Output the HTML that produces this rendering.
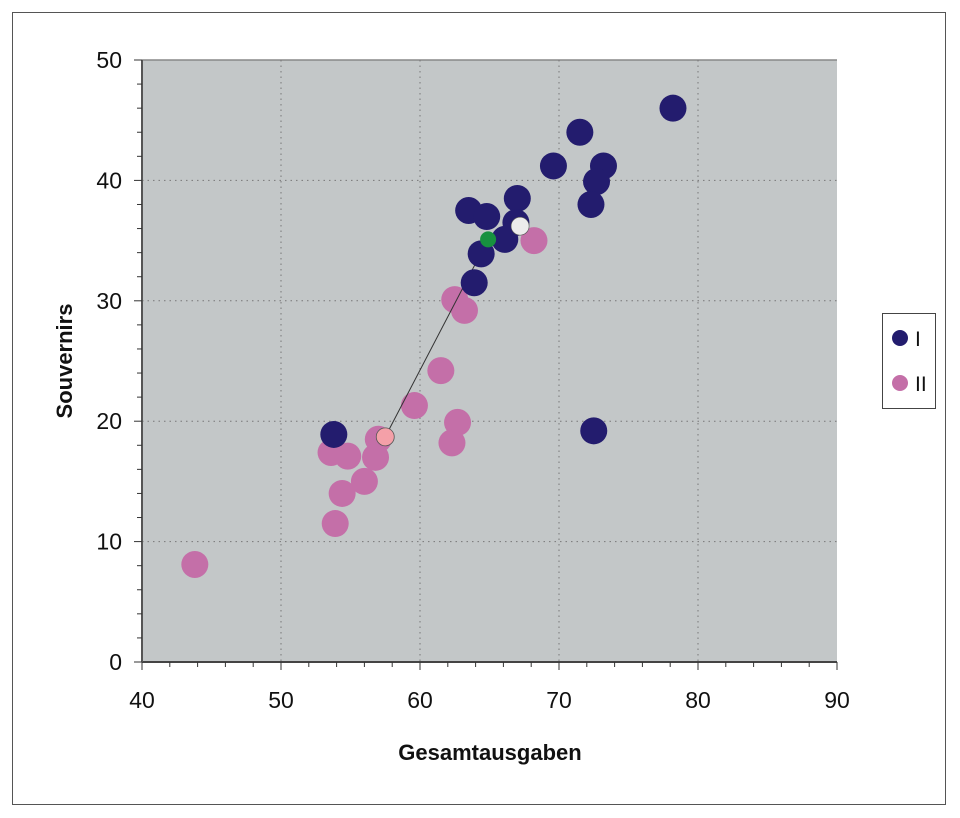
<!DOCTYPE html>
<html><head><meta charset="utf-8"><style>
body{margin:0;background:#fff;width:960px;height:818px;overflow:hidden}
svg{display:block;font-family:"Liberation Sans",sans-serif}
</style></head><body>
<svg id="c" width="960" height="818">
<rect x="12.5" y="12.5" width="933" height="792" fill="#fff" stroke="#555"/>
</svg>
<script>
const xTicks=[40,50,60,70,80,90];
const yTicks=[0,10,20,30,40,50];
const groupIX=[78.2,71.5,69.6,73.2,72.7,72.3,67.0,63.5,64.8,66.9,66.1,64.4,63.9,53.8,72.5];
const groupIY=[46.0,44.0,41.2,41.2,39.9,38.0,38.5,37.5,37.0,36.5,35.1,33.9,31.5,18.9,19.2];
const groupIIX=[68.2,62.5,63.2,61.5,59.6,62.7,62.3,57.0,56.8,53.6,54.8,56.0,54.4,53.9,43.8];
const groupIIY=[35.0,30.1,29.2,24.2,21.3,19.9,18.2,18.5,17.0,17.4,17.1,15.0,14.0,11.5,8.1];
const centroidI=[67.2,36.2];
const centroidAll=[64.9,35.1];
const centroidII=[57.5,18.7];
const NS="http://www.w3.org/2000/svg";
const svg=document.getElementById('c');
const X0=142,X1=837,Y0=662,Y1=60;
const sx=v=>X0+(v-40)/50*(X1-X0);
const sy=v=>Y0-(v/50)*(Y0-Y1);
function mk(t,a,p){const e=document.createElementNS(NS,t);for(const k in a)e.setAttribute(k,a[k]);(p||svg).appendChild(e);return e;}
let el=mk('rect',{x:X0,y:Y1,width:X1-X0,height:Y0-Y1,fill:'#c3c7c8'});


mk('line',{x1:X0,x2:X1,y1:Y1,y2:Y1,stroke:'#888','stroke-width':1.5});
xTicks.forEach(v=>{if(v>40&&v<90){let g=mk('line',{x1:sx(v),x2:sx(v),y1:Y1,y2:Y0,stroke:'#777','stroke-dasharray':'1.5 4'});

}});
yTicks.forEach(v=>{if(v>0&&v<50){let g=mk('line',{x1:X0,x2:X1,y1:sy(v),y2:sy(v),stroke:'#777','stroke-dasharray':'1.5 4'});

}});
el=mk('line',{x1:X0,x2:X1,y1:Y0,y2:Y0,stroke:'#444','stroke-width':2});


el=mk('line',{x1:X0,x2:X0,y1:Y1,y2:Y0,stroke:'#555','stroke-width':2});


for(let v=40;v<=90;v+=2){const maj=(v%10===0);mk('line',{x1:sx(v),x2:sx(v),y1:Y0,y2:Y0+(maj?8:5),stroke:'#333'});}
for(let v=0;v<=50;v+=2){const maj=(v%10===0);mk('line',{x1:X0-(maj?8:5),x2:X0,y1:sy(v),y2:sy(v),stroke:'#333'});}
xTicks.forEach(v=>{let t=mk('text',{x:sx(v),y:708,'text-anchor':'middle','font-size':23,fill:'#111'});t.textContent=v;

});
yTicks.forEach(v=>{let t=mk('text',{x:122,y:sy(v)+8,'text-anchor':'end','font-size':23,fill:'#111'});t.textContent=v;

});
el=mk('text',{x:490,y:760,'text-anchor':'middle','font-size':22,'font-weight':'bold',fill:'#111'});el.textContent='Gesamtausgaben';


el=mk('text',{x:72,y:361,'text-anchor':'middle','font-size':22,'font-weight':'bold',fill:'#111',transform:'rotate(-90 72 361)'});el.textContent='Souvernirs';


const R=13.5;
groupIIX.forEach((v,i)=>{let c=mk('circle',{cx:sx(v),cy:sy(groupIIY[i]),r:R,fill:'#c46fa8'});

});
el=mk('line',{x1:sx(centroidII[0]),y1:sy(centroidII[1]),x2:sx(centroidAll[0]),y2:sy(centroidAll[1]),stroke:'#333','stroke-width':1});


groupIX.forEach((v,i)=>{let c=mk('circle',{cx:sx(v),cy:sy(groupIY[i]),r:R,fill:'#231c6e'});

});
el=mk('circle',{cx:sx(centroidAll[0]),cy:sy(centroidAll[1]),r:8,fill:'#17913f'});


el=mk('circle',{cx:sx(centroidI[0]),cy:sy(centroidI[1]),r:9,fill:'#ececec',stroke:'#555','stroke-width':0.6});


el=mk('circle',{cx:sx(centroidII[0]),cy:sy(centroidII[1]),r:9,fill:'#f4a0a8',stroke:'#555','stroke-width':0.8});


const lg=mk('g',{});


mk('rect',{x:882.5,y:313.5,width:53,height:95,fill:'#fff',stroke:'#444'},lg);
el=mk('circle',{cx:900,cy:338,r:8,fill:'#231c6e'},lg);


el=mk('text',{x:915,y:346,'font-size':21,fill:'#111'},lg);el.textContent='I';


el=mk('circle',{cx:900,cy:383,r:8,fill:'#c46fa8'},lg);


el=mk('text',{x:915,y:391,'font-size':21,fill:'#111'},lg);el.textContent='II';


</script>
</body></html>
